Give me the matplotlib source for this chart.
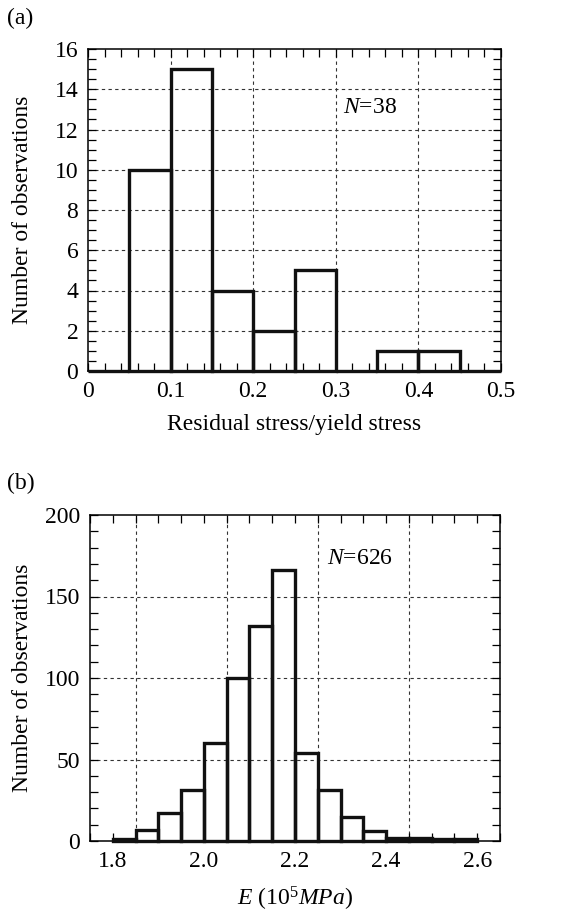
import matplotlib
matplotlib.use('Agg')
import matplotlib.pyplot as plt
from matplotlib.ticker import MultipleLocator
import numpy as np

plt.rcParams['font.family'] = ['Liberation Serif', 'DejaVu Serif']
plt.rcParams['mathtext.fontset'] = 'custom'
plt.rcParams['mathtext.rm'] = 'Liberation Serif'
plt.rcParams['mathtext.it'] = 'Liberation Serif:italic'

# panel (a): residual stress / yield stress
edges_a = np.arange(0, 0.5001, 0.05)
counts_a = [0, 10, 15, 4, 2, 5, 0, 1, 1, 0]
n_a = 38

# panel (b): elastic modulus
edges_b = np.arange(1.80, 2.6001, 0.05)
counts_b = [1, 7, 17, 31, 60, 100, 132, 166, 54, 31, 15, 6, 2, 2, 1, 1]
n_b = 626

FS = 17

fig = plt.figure(figsize=(5.72, 9.11), dpi=100)
ax1 = fig.add_axes([88/572, 1 - 371/911, 413/572, 322/911])
ax2 = fig.add_axes([90/572, 1 - 841/911, 410/572, 326/911])


def style(ax):
    ax.tick_params(which='both', direction='in', top=True, right=True,
                   length=6, width=0.9, labelsize=FS, pad=7)
    for s in ax.spines.values():
        s.set_linewidth(1.1)


def hist(ax, edges, counts):
    ax.bar(edges[:-1], counts, width=np.diff(edges), align='edge',
           fill=False, edgecolor='#111111', linewidth=2.4, clip_on=False, zorder=3)


grid_kw = dict(color='#333333', linestyle=(0, (3, 3)), linewidth=0.8, zorder=1)

# (a)
hist(ax1, edges_a, counts_a)
ax1.set_xlim(0, 0.5)
ax1.set_ylim(0, 16)
ax1.set_xticks([0, 0.1, 0.2, 0.3, 0.4, 0.5])
ax1.set_xticklabels(['0', '0.1', '0.2', '0.3', '0.4', '0.5'])
ax1.xaxis.set_minor_locator(MultipleLocator(0.02))
ax1.yaxis.set_major_locator(MultipleLocator(2))
ax1.yaxis.set_minor_locator(MultipleLocator(0.5))
for x in [0.1, 0.2, 0.3, 0.4]:
    ax1.axvline(x, **grid_kw)
for y in range(2, 16, 2):
    ax1.axhline(y, **grid_kw)
style(ax1)
ax1.set_xlabel('Residual stress/yield stress', fontsize=FS)
ax1.set_ylabel('Number of observations', fontsize=FS)
ax1.xaxis.set_label_coords(0.5, -0.134)
ax1.yaxis.set_label_coords(-0.133, 0.5)
ax1.text(0.309, 13.1, '$N$=%d' % n_a, fontsize=FS, va='center', ha='left')
fig.text(7/572, 1 - 18/911, '(a)', fontsize=FS, va='center', ha='left')

# (b)
hist(ax2, edges_b, counts_b)
ax2.set_xlim(1.75, 2.65)
ax2.set_ylim(0, 200)
ax2.set_xticks([1.8, 2.0, 2.2, 2.4, 2.6])
ax2.set_xticklabels(['1.8', '2.0', '2.2', '2.4', '2.6'])
ax2.xaxis.set_minor_locator(MultipleLocator(0.05))
ax2.yaxis.set_major_locator(MultipleLocator(50))
ax2.yaxis.set_minor_locator(MultipleLocator(10))
for x in [1.85, 2.05, 2.25, 2.45]:
    ax2.axvline(x, **grid_kw)
for y in [50, 100, 150]:
    ax2.axhline(y, **grid_kw)
style(ax2)
ax2.set_xlabel('$E$ (10$^5$$MPa$)', fontsize=FS)
ax2.set_ylabel('Number of observations', fontsize=FS)
ax2.xaxis.set_label_coords(0.5, -0.135)
ax2.yaxis.set_label_coords(-0.139, 0.5)
ax2.text(2.27, 173.6, '$N$=%d' % n_b, fontsize=FS, va='center', ha='left')
fig.text(7/572, 1 - 483/911, '(b)', fontsize=FS, va='center', ha='left')

fig.savefig('out.png', dpi=100)
